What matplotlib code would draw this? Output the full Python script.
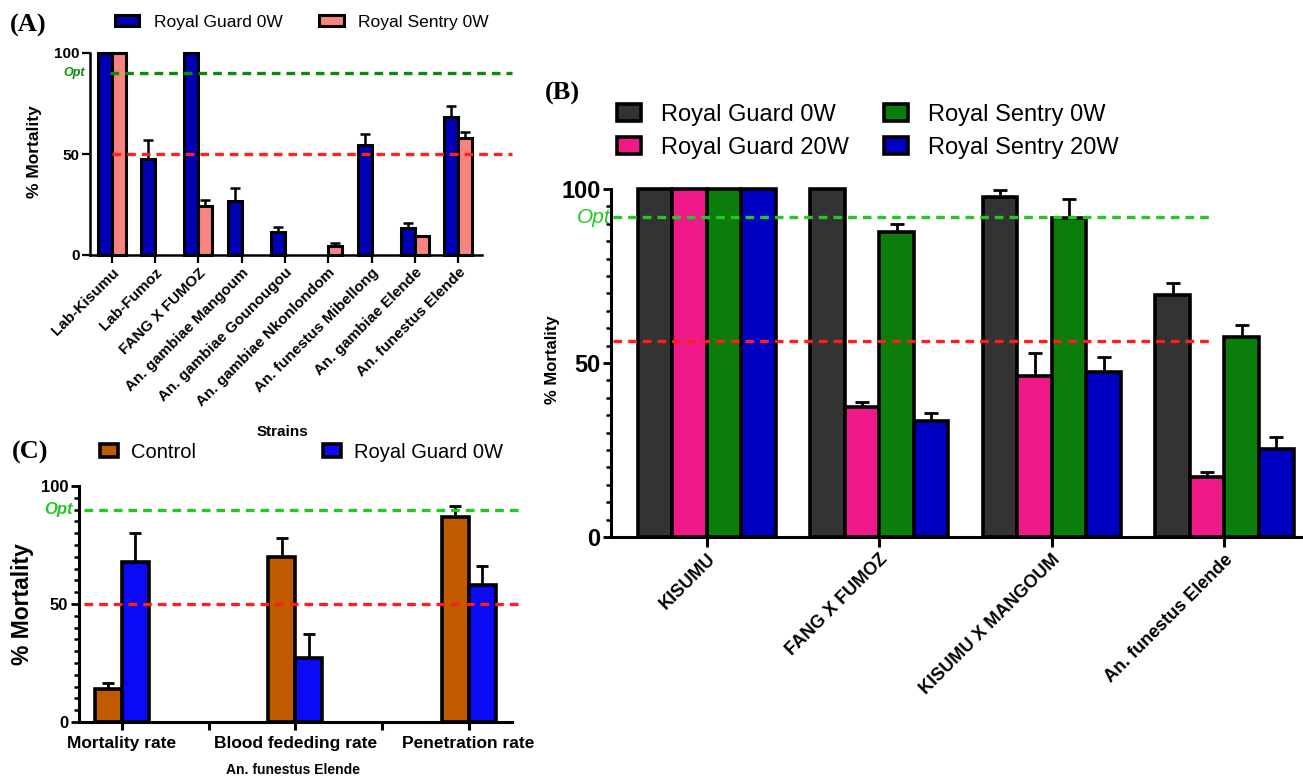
import numpy as np
import matplotlib
matplotlib.use("Agg")
import matplotlib.pyplot as plt
from matplotlib.patches import Patch
import matplotlib.transforms as mtrans
from matplotlib.ticker import MultipleLocator

plt.rcParams['font.family'] = ['Liberation Sans', 'DejaVu Sans']

# ---------------- data ----------------
a_strains = ["Lab-Kisumu", "Lab-Fumoz", "FANG X FUMOZ", "An. gambiae Mangoum",
             "An. gambiae Gounougou", "An. gambiae Nkonlondom", "An. funestus Mibellong",
             "An. gambiae Elende", "An. funestus Elende"]
a_guard0 = [100, 47.5, 100, 26.5, 11.5, 0, 54.5, 13.5, 68.5]
a_guard0_err = [0, 9.5, 0, 6.5, 2.5, 0, 5.5, 2.5, 5.5]
a_sentry0 = [100, 0, 24.5, 0, 0, 4.5, 0, 9.5, 58]
a_sentry0_err = [0, 0, 2.5, 0, 0, 1.5, 0, 0, 3]

b_strains = ["KISUMU", "FANG X FUMOZ", "KISUMU X MANGOUM", "An. funestus Elende"]
b_guard0 = [100, 100, 97.6, 69.4]
b_guard0_err = [0, 0, 2.2, 3.7]
b_guard20 = [100, 37.3, 46.3, 17.2]
b_guard20_err = [0, 1.6, 6.5, 1.6]
b_sentry0 = [100, 87.6, 91.6, 57.4]
b_sentry0_err = [0, 2.4, 5.6, 3.4]
b_sentry20 = [100, 33.3, 47.4, 25.2]
b_sentry20_err = [0, 2.4, 4.3, 3.4]

c_cats = ["Mortality rate", "", "Blood fededing rate", "", "Penetration rate"]
c_pos = [0, 2, 4]
c_control = [14.1, 70, 86.7]
c_control_err = [2.4, 8, 4.8]
c_guard0 = [67.6, 27.3, 58]
c_guard0_err = [12.3, 10.2, 8.2]

a_opt, a_thr = 90, 50
b_opt, b_thr = 91.9, 56.3
c_opt, c_thr = 90, 50

W, H = 1303, 779
fig = plt.figure(figsize=(W / 100, H / 100), dpi=100)


def fx(px):
    return px / W


def fy(py):
    return 1 - py / H


def draw_bars(ax, x, vals, errs, color, width, lw, cap, elw):
    x = np.asarray(x, float)
    vals = np.asarray(vals, float)
    errs = np.asarray(errs, float)
    m = vals > 0
    ax.bar(x[m], vals[m], width=width, color=color, edgecolor='black',
           linewidth=lw, clip_on=False, zorder=3)
    e = m & (errs > 0)
    if e.any():
        ax.errorbar(x[e], vals[e], yerr=[np.zeros(e.sum()), errs[e]], fmt='none',
                    ecolor='black', elinewidth=elw, capsize=cap, capthick=elw,
                    clip_on=False, zorder=2)


def style_axes(ax, spine_w, ticklen, tickw, ysize, xsize):
    for s in ['top', 'right']:
        ax.spines[s].set_visible(False)
    for s in ['left', 'bottom']:
        ax.spines[s].set_linewidth(spine_w)
    ax.tick_params(axis='both', which='major', length=ticklen, width=tickw, pad=1.5)
    ax.set_ylim(0, 100)
    ax.set_yticks([0, 50, 100])
    for t in ax.get_yticklabels():
        t.set_fontweight('bold')
        t.set_fontsize(ysize)


# ---------------- Panel A ----------------
axA = fig.add_axes([fx(90), fy(255), fx(482 - 90), (255 - 53) / H])
xa = np.arange(len(a_strains))
bwA = 0.32
draw_bars(axA, xa - bwA / 2, a_guard0, a_guard0_err, '#0000B4', bwA, 2.2, 3.5, 1.8)
draw_bars(axA, xa + bwA / 2, a_sentry0, a_sentry0_err, '#F7847F', bwA, 2.2, 3.5, 1.8)
axA.set_xlim(-0.5, 8.55)
style_axes(axA, 1.8, 6, 1.6, 11, 11)
axA.set_xticks(xa)
axA.set_xticklabels(a_strains, rotation=45, ha='right', rotation_mode='anchor',
                    fontsize=11, fontweight='bold')
axA.plot([-0.04, 9.25], [a_opt, a_opt], color='#0A8A0A', lw=2.4, dashes=(2.6, 1.8),
         clip_on=False, zorder=4)
axA.plot([0.0, 9.25], [a_thr, a_thr], color='#FF2020', lw=2.4, dashes=(2.6, 1.8),
         clip_on=False, zorder=4)
trA = mtrans.blended_transform_factory(axA.transAxes, axA.transData)
axA.text(-0.013, a_opt, 'Opt', transform=trA, ha='right', va='center', color='#0A8A0A',
         fontsize=9, fontweight='bold', style='italic')
fig.text(fx(35), fy(152), '% Mortality', rotation=90, ha='center', va='center',
         fontsize=12.5, fontweight='bold')
fig.text(fx(282), fy(432), 'Strains', ha='center', va='center', fontsize=11, fontweight='bold')
legA = fig.legend(handles=[Patch(facecolor='#0000B4', edgecolor='black', linewidth=2.2),
                           Patch(facecolor='#F7847F', edgecolor='black', linewidth=2.2)],
                  labels=['Royal Guard 0W', 'Royal Sentry 0W'], loc='center left',
                  bbox_to_anchor=(fx(115), fy(22)), ncol=2, frameon=False, fontsize=12.5,
                  handlelength=1.4, handleheight=0.6, handletextpad=0.85,
                  columnspacing=2.1, borderpad=0, borderaxespad=0)
fig.text(fx(10), fy(25), '(A)', family='Liberation Serif', fontweight='bold', fontsize=19,
         ha='left', va='center')

# ---------------- Panel B ----------------
axB = fig.add_axes([fx(611), fy(537), fx(W - 611), (537 - 189) / H])
xb = np.arange(len(b_strains))
bwB = 0.2
for i, (vals, errs, col) in enumerate([(b_guard0, b_guard0_err, '#333333'),
                                       (b_guard20, b_guard20_err, '#F0198A'),
                                       (b_sentry0, b_sentry0_err, '#0A7D0A'),
                                       (b_sentry20, b_sentry20_err, '#0000C2')]):
    draw_bars(axB, xb + (i - 1.5) * bwB, vals, errs, col, bwB, 2.6, 5, 2.0)
axB.set_xlim(-0.555, 3.455)
style_axes(axB, 2.2, 6, 2.0, 17, 13)
axB.yaxis.set_minor_locator(MultipleLocator(5))
axB.tick_params(axis='y', which='minor', length=3.5, width=1.8)
axB.set_xticks(xb)
axB.set_xticklabels(b_strains, rotation=45, ha='right', rotation_mode='anchor',
                    fontsize=13, fontweight='bold')
axB.tick_params(axis='x', length=7, width=2.2, pad=3)
axB.plot([-0.545, 2.92], [b_opt, b_opt], color='#22C922', lw=2.4, dashes=(2.6, 1.8),
         clip_on=False, zorder=4)
axB.plot([-0.545, 2.92], [b_thr, b_thr], color='#FF1E1E', lw=2.4, dashes=(2.6, 1.8),
         clip_on=False, zorder=4)
trB = mtrans.blended_transform_factory(axB.transAxes, axB.transData)
axB.text(0.0, b_opt, 'Opt', transform=trB, ha='right', va='center', color='#22C922',
         fontsize=15, style='italic')
fig.text(fx(552), fy(360), '% Mortality', rotation=90, ha='center', va='center',
         fontsize=12, fontweight='bold')
legB = fig.legend(handles=[Patch(facecolor=c, edgecolor='black', linewidth=2.6)
                           for c in ['#333333', '#F0198A', '#0A7D0A', '#0000C2']],
                  labels=['Royal Guard 0W', 'Royal Guard 20W', 'Royal Sentry 0W',
                          'Royal Sentry 20W'],
                  loc='upper left', bbox_to_anchor=(fx(617), fy(104)), ncol=2, frameon=False,
                  fontsize=17, handlelength=1.0, handleheight=0.75, handletextpad=0.85,
                  columnspacing=1.5, labelspacing=0.45, borderpad=0, borderaxespad=0)
fig.text(fx(545), fy(93), '(B)', family='Liberation Serif', fontweight='bold', fontsize=19,
         ha='left', va='center')

# ---------------- Panel C ----------------
axC = fig.add_axes([fx(78.5), fy(722), fx(512 - 78.5), (722 - 486) / H])
bwC = 0.31
cp = np.asarray(c_pos, float)
draw_bars(axC, cp - bwC / 2, c_control, c_control_err, '#C05B00', bwC, 2.6, 4.5, 2.0)
draw_bars(axC, cp + bwC / 2, c_guard0, c_guard0_err, '#0A0AF5', bwC, 2.6, 4.5, 2.0)
axC.set_xlim(-0.5, 4.5)
style_axes(axC, 2.2, 6, 2.0, 12, 12.5)
axC.yaxis.set_minor_locator(MultipleLocator(5))
axC.tick_params(axis='y', which='minor', length=3.5, width=1.8)
axC.set_xticks(np.arange(len(c_cats)))
axC.set_xticklabels(c_cats, fontsize=12.5, fontweight='bold')
axC.tick_params(axis='x', length=6, width=2.2, pad=4)
axC.plot([-0.44, 4.64], [c_opt, c_opt], color='#22C922', lw=2.4, dashes=(2.6, 1.8),
         clip_on=False, zorder=4)
axC.plot([-0.44, 4.64], [c_thr, c_thr], color='#FF1E1E', lw=2.4, dashes=(2.6, 1.8),
         clip_on=False, zorder=4)
trC = mtrans.blended_transform_factory(axC.transAxes, axC.transData)
axC.text(-0.013, c_opt, 'Opt', transform=trC, ha='right', va='center', color='#22C922',
         fontsize=12, fontweight='bold', style='italic')
fig.text(fx(22), fy(604), '% Mortality', rotation=90, ha='center', va='center',
         fontsize=16.5, fontweight='bold')
fig.text(fx(293), fy(770), 'An. funestus Elende', ha='center', va='center',
         fontsize=10, fontweight='bold')
legC = fig.legend(handles=[Patch(facecolor='#C05B00', edgecolor='black', linewidth=2.6),
                           Patch(facecolor='#0A0AF5', edgecolor='black', linewidth=2.6)],
                  labels=['Control', 'Royal Guard 0W'], loc='center left',
                  bbox_to_anchor=(fx(100), fy(452)), ncol=2, frameon=False, fontsize=14.5,
                  handlelength=0.9, handleheight=0.6, handletextpad=0.65,
                  columnspacing=6.3, borderpad=0, borderaxespad=0)
fig.text(fx(12), fy(452), '(C)', family='Liberation Serif', fontweight='bold', fontsize=19,
         ha='left', va='center')

fig.savefig('out.png', dpi=100)
